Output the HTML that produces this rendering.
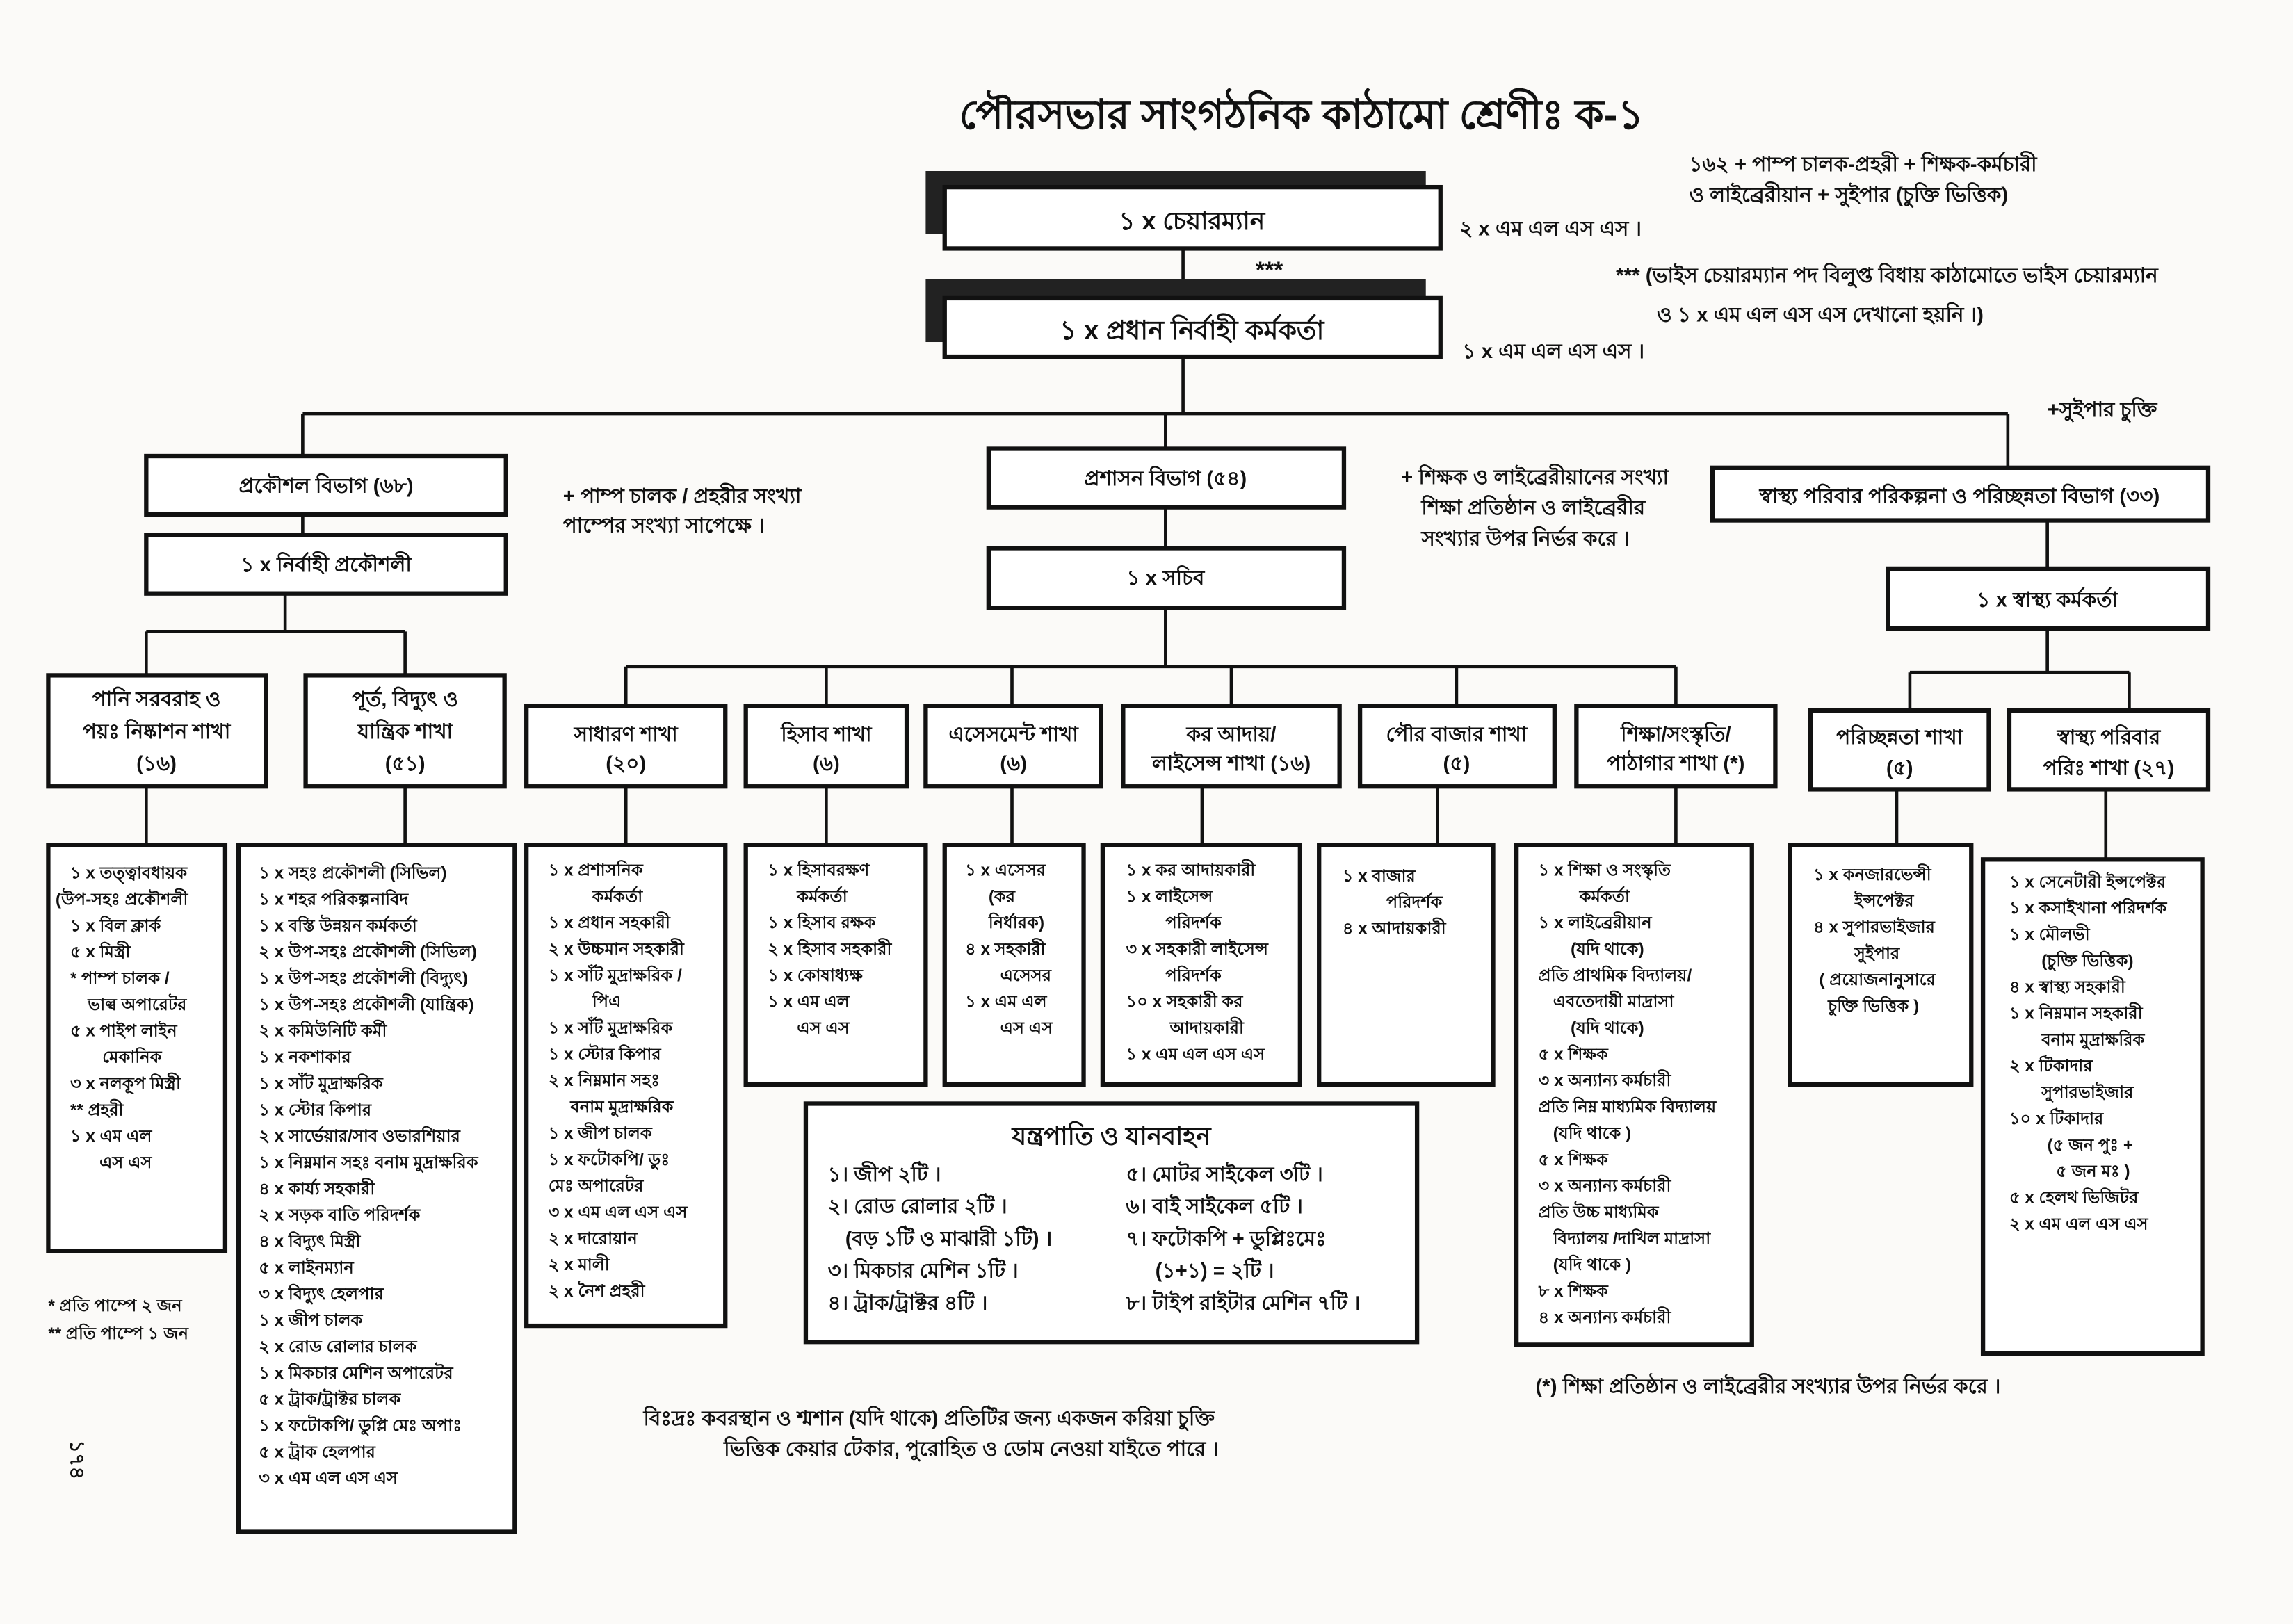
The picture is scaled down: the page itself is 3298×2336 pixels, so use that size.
<!DOCTYPE html>
<html><head><meta charset="utf-8"><style>
html,body{margin:0;padding:0;background:#fbfaf8;}
svg{display:block}
text{font-family:"Liberation Sans","DejaVu Sans",sans-serif;font-weight:bold;fill:#111}
.b{fill:#fff;stroke:#111;stroke-width:3}
.l{stroke:#111;stroke-width:2.2;fill:none}
.s{font-size:11.5px}
.m{font-size:14px}
.c{text-anchor:middle}
</style></head><body>
<svg width="3298" height="2336" viewBox="0 0 1568 1111" preserveAspectRatio="none" xmlns="http://www.w3.org/2000/svg">
<rect width="1568" height="1111" fill="#fbfaf8"/>
<text x="890" y="88" class="c" style="font-size:28px">পৌরসভার সাংগঠনিক কাঠামো শ্রেণীঃ ক-১</text>
<text x="1155" y="117" class="m">১৬২ + পাম্প চালক-প্রহরী + শিক্ষক-কর্মচারী</text>
<text x="1155" y="138" class="m">ও লাইব্রেরীয়ান + সুইপার (চুক্তি ভিত্তিক)</text>

<rect x="633" y="117" width="342" height="43" fill="#222"/>
<rect x="646" y="128" width="339" height="42" class="b"/>
<text x="815" y="157" class="c" style="font-size:17px">১ x চেয়ারম্যান</text>
<text x="998" y="161" class="m">২ x এম এল এস এস ।</text>
<line x1="809" y1="170" x2="809" y2="205" class="l" stroke-width="3"/>
<text x="868" y="190" class="c" style="font-size:16px">***</text>
<rect x="633" y="191" width="342" height="43" fill="#222"/>
<rect x="646" y="204" width="339" height="40" class="b"/>
<text x="815" y="232" class="c" style="font-size:18px">১ x প্রধান নির্বাহী কর্মকর্তা</text>
<text x="1000" y="245" class="m">১ x এম এল এস এস ।</text>
<text x="1105" y="193" class="m">*** (ভাইস চেয়ারম্যান পদ বিলুপ্ত বিধায় কাঠামোতে ভাইস চেয়ারম্যান</text>
<text x="1133" y="220" class="m">ও ১ x এম এল এস এস দেখানো হয়নি ।)</text>

<path d="M809 244V283M207 283H1373M207 283V312M797 283V307M1373 283V320" class="l"/>
<text x="1400" y="285" class="m">+সুইপার চুক্তি</text>

<rect x="100" y="312" width="246" height="40" class="b"/>
<text x="223" y="337" class="c m">প্রকৌশল বিভাগ (৬৮)</text>
<path d="M207 352V366M195 406V432M100 432H277M100 432V462M277 432V462M100 538V578M277 538V578" class="l"/>
<rect x="100" y="366" width="246" height="40" class="b"/>
<text x="223" y="391" class="c m">১ x নির্বাহী প্রকৌশলী</text>
<rect x="33" y="462" width="149" height="76" class="b"/>
<text x="107" y="483" class="c m">পানি সরবরাহ ও</text>
<text x="107" y="505" class="c m">পয়ঃ নিষ্কাশন শাখা</text>
<text x="107" y="527" class="c m">(১৬)</text>
<rect x="209" y="462" width="136" height="76" class="b"/>
<text x="277" y="483" class="c m">পূর্ত, বিদ্যুৎ ও</text>
<text x="277" y="505" class="c m">যান্ত্রিক শাখা</text>
<text x="277" y="527" class="c m">(৫১)</text>

<rect x="33" y="578" width="121" height="278" class="b"/>
<g class="s">
<text x="48" y="601">১ x তত্ত্বাবধায়ক</text>
<text x="38" y="619">(উপ-সহঃ প্রকৌশলী</text>
<text x="48" y="637">১ x বিল ক্লার্ক</text>
<text x="48" y="655">৫ x মিস্ত্রী</text>
<text x="48" y="673">* পাম্প চালক /</text>
<text x="60" y="691">ভাল্ব অপারেটর</text>
<text x="48" y="709">৫ x পাইপ লাইন</text>
<text x="70" y="727">মেকানিক</text>
<text x="48" y="745">৩ x নলকূপ মিস্ত্রী</text>
<text x="48" y="763">** প্রহরী</text>
<text x="48" y="781">১ x এম এল</text>
<text x="68" y="799">এস এস</text>
</g>
<rect x="163" y="578" width="189" height="470" class="b"/>
<g class="s">
<text x="177" y="601">১ x সহঃ প্রকৌশলী (সিভিল)</text>
<text x="177" y="619">১ x শহর পরিকল্পনাবিদ</text>
<text x="177" y="637">১ x বস্তি উন্নয়ন কর্মকর্তা</text>
<text x="177" y="655">২ x উপ-সহঃ প্রকৌশলী (সিভিল)</text>
<text x="177" y="673">১ x উপ-সহঃ প্রকৌশলী (বিদ্যুৎ)</text>
<text x="177" y="691">১ x উপ-সহঃ প্রকৌশলী (যান্ত্রিক)</text>
<text x="177" y="709">২ x কমিউনিটি কর্মী</text>
<text x="177" y="727">১ x নকশাকার</text>
<text x="177" y="745">১ x সাঁট মুদ্রাক্ষরিক</text>
<text x="177" y="763">১ x স্টোর কিপার</text>
<text x="177" y="781">২ x সার্ভেয়ার/সাব ওভারশিয়ার</text>
<text x="177" y="799">১ x নিম্নমান সহঃ বনাম মুদ্রাক্ষরিক</text>
<text x="177" y="817">৪ x কার্য্য সহকারী</text>
<text x="177" y="835">২ x সড়ক বাতি পরিদর্শক</text>
<text x="177" y="853">৪ x বিদ্যুৎ মিস্ত্রী</text>
<text x="177" y="871">৫ x লাইনম্যান</text>
<text x="177" y="889">৩ x বিদ্যুৎ হেলপার</text>
<text x="177" y="907">১ x জীপ চালক</text>
<text x="177" y="925">২ x রোড রোলার চালক</text>
<text x="177" y="943">১ x মিকচার মেশিন অপারেটর</text>
<text x="177" y="961">৫ x ট্রাক/ট্রাক্টর চালক</text>
<text x="177" y="979">১ x ফটোকপি/ ডুপ্লি মেঃ অপাঃ</text>
<text x="177" y="997">৫ x ট্রাক হেলপার</text>
<text x="177" y="1015">৩ x এম এল এস এস</text>
</g>
<text x="33" y="897" class="s">* প্রতি পাম্পে ২ জন</text>
<text x="33" y="916" class="s">** প্রতি পাম্পে ১ জন</text>
<text x="0" y="0" class="m" transform="translate(48,985) rotate(90)">১৭৪</text>

<text x="385" y="344" class="m">+ পাম্প চালক / প্রহরীর সংখ্যা</text>
<text x="385" y="364" class="m">পাম্পের সংখ্যা সাপেক্ষে ।</text>
<text x="958" y="331" class="m">+ শিক্ষক ও লাইব্রেরীয়ানের সংখ্যা</text>
<text x="972" y="352" class="m">শিক্ষা প্রতিষ্ঠান ও লাইব্রেরীর</text>
<text x="972" y="373" class="m">সংখ্যার উপর নির্ভর করে ।</text>

<rect x="676" y="307" width="243" height="40" class="b"/>
<text x="797" y="332" class="c m">প্রশাসন বিভাগ (৫৪)</text>
<rect x="676" y="375" width="243" height="41" class="b"/>
<text x="797" y="400" class="c m">১ x সচিব</text>
<path d="M797 347V375M797 416V456M428 456H1146M428 456V483M565 456V483M692 456V483M842 456V483M996 456V483M1146 456V483M428 538V578M565 538V578M692 538V578M822 538V578M983 538V578M1146 538V578" class="l"/>
<rect x="360" y="483" width="136" height="55" class="b"/>
<text x="428" y="507" class="c m">সাধারণ শাখা</text>
<text x="428" y="527" class="c m">(২০)</text>
<rect x="510" y="483" width="110" height="55" class="b"/>
<text x="565" y="507" class="c m">হিসাব শাখা</text>
<text x="565" y="527" class="c m">(৬)</text>
<rect x="633" y="483" width="120" height="55" class="b"/>
<text x="693" y="507" class="c m">এসেসমেন্ট শাখা</text>
<text x="693" y="527" class="c m">(৬)</text>
<rect x="768" y="483" width="148" height="55" class="b"/>
<text x="842" y="507" class="c m">কর আদায়/</text>
<text x="842" y="527" class="c m">লাইসেন্স শাখা (১৬)</text>
<rect x="930" y="483" width="133" height="55" class="b"/>
<text x="996" y="507" class="c m">পৌর বাজার শাখা</text>
<text x="996" y="527" class="c m">(৫)</text>
<rect x="1078" y="483" width="136" height="55" class="b"/>
<text x="1146" y="507" class="c m">শিক্ষা/সংস্কৃতি/</text>
<text x="1146" y="527" class="c m">পাঠাগার শাখা (*)</text>

<rect x="360" y="578" width="136" height="329" class="b"/>
<g class="s">
<text x="375" y="599">১ x প্রশাসনিক</text>
<text x="405" y="617">কর্মকর্তা</text>
<text x="375" y="635">১ x প্রধান সহকারী</text>
<text x="375" y="653">২ x উচ্চমান সহকারী</text>
<text x="375" y="671">১ x সাঁট মুদ্রাক্ষরিক /</text>
<text x="405" y="689">পিএ</text>
<text x="375" y="707">১ x সাঁট মুদ্রাক্ষরিক</text>
<text x="375" y="725">১ x স্টোর কিপার</text>
<text x="375" y="743">২ x নিম্নমান সহঃ</text>
<text x="390" y="761">বনাম মুদ্রাক্ষরিক</text>
<text x="375" y="779">১ x জীপ চালক</text>
<text x="375" y="797">১ x ফটোকপি/ ডুঃ</text>
<text x="375" y="815">মেঃ অপারেটর</text>
<text x="375" y="833">৩ x এম এল এস এস</text>
<text x="375" y="851">২ x দারোয়ান</text>
<text x="375" y="869">২ x মালী</text>
<text x="375" y="887">২ x নৈশ প্রহরী</text>
</g>
<rect x="510" y="578" width="123" height="164" class="b"/>
<g class="s">
<text x="525" y="599">১ x হিসাবরক্ষণ</text>
<text x="545" y="617">কর্মকর্তা</text>
<text x="525" y="635">১ x হিসাব রক্ষক</text>
<text x="525" y="653">২ x হিসাব সহকারী</text>
<text x="525" y="671">১ x কোষাধ্যক্ষ</text>
<text x="525" y="689">১ x এম এল</text>
<text x="545" y="707">এস এস</text>
</g>
<rect x="646" y="578" width="95" height="164" class="b"/>
<g class="s">
<text x="660" y="599">১ x এসেসর</text>
<text x="676" y="617">(কর</text>
<text x="676" y="635">নির্ধারক)</text>
<text x="660" y="653">৪ x সহকারী</text>
<text x="684" y="671">এসেসর</text>
<text x="660" y="689">১ x এম এল</text>
<text x="684" y="707">এস এস</text>
</g>
<rect x="754" y="578" width="135" height="164" class="b"/>
<g class="s">
<text x="770" y="599">১ x কর আদায়কারী</text>
<text x="770" y="617">১ x লাইসেন্স</text>
<text x="797" y="635">পরিদর্শক</text>
<text x="770" y="653">৩ x সহকারী লাইসেন্স</text>
<text x="797" y="671">পরিদর্শক</text>
<text x="770" y="689">১০ x সহকারী কর</text>
<text x="800" y="707">আদায়কারী</text>
<text x="770" y="725">১ x এম এল এস এস</text>
</g>
<rect x="902" y="578" width="119" height="164" class="b"/>
<g class="s">
<text x="918" y="603">১ x বাজার</text>
<text x="948" y="621">পরিদর্শক</text>
<text x="918" y="639">৪ x আদায়কারী</text>
</g>
<rect x="1037" y="578" width="161" height="342" class="b"/>
<g class="s">
<text x="1052" y="599">১ x শিক্ষা ও সংস্কৃতি</text>
<text x="1080" y="617">কর্মকর্তা</text>
<text x="1052" y="635">১ x লাইব্রেরীয়ান</text>
<text x="1074" y="653">(যদি থাকে)</text>
<text x="1052" y="671">প্রতি প্রাথমিক বিদ্যালয়/</text>
<text x="1062" y="689">এবতেদায়ী মাদ্রাসা</text>
<text x="1074" y="707">(যদি থাকে)</text>
<text x="1052" y="725">৫ x শিক্ষক</text>
<text x="1052" y="743">৩ x অন্যান্য কর্মচারী</text>
<text x="1052" y="761">প্রতি নিম্ন মাধ্যমিক বিদ্যালয়</text>
<text x="1062" y="779">(যদি থাকে )</text>
<text x="1052" y="797">৫ x শিক্ষক</text>
<text x="1052" y="815">৩ x অন্যান্য কর্মচারী</text>
<text x="1052" y="833">প্রতি উচ্চ মাধ্যমিক</text>
<text x="1062" y="851">বিদ্যালয় /দাখিল মাদ্রাসা</text>
<text x="1062" y="869">(যদি থাকে )</text>
<text x="1052" y="887">৮ x শিক্ষক</text>
<text x="1052" y="905">৪ x অন্যান্য কর্মচারী</text>
</g>

<rect x="551" y="755" width="418" height="163" class="b"/>
<text x="760" y="783" class="c" style="font-size:17px">যন্ত্রপাতি ও যানবাহন</text>
<g class="m">
<text x="566" y="808">১। জীপ ২টি ।</text>
<text x="566" y="830">২। রোড রোলার ২টি ।</text>
<text x="578" y="852">(বড় ১টি ও মাঝারী ১টি) ।</text>
<text x="566" y="874">৩। মিকচার মেশিন ১টি ।</text>
<text x="566" y="896">৪। ট্রাক/ট্রাক্টর ৪টি ।</text>
<text x="770" y="808">৫। মোটর সাইকেল ৩টি ।</text>
<text x="770" y="830">৬। বাই সাইকেল ৫টি ।</text>
<text x="770" y="852">৭। ফটোকপি + ডুপ্লিঃমেঃ</text>
<text x="790" y="874">(১+১) = ২টি ।</text>
<text x="770" y="896">৮। টাইপ রাইটার মেশিন ৭টি ।</text>
</g>
<text x="440" y="975" class="m">বিঃদ্রঃ কবরস্থান ও শ্মশান (যদি থাকে) প্রতিটির জন্য একজন করিয়া চুক্তি</text>
<text x="495" y="996" class="m">ভিত্তিক কেয়ার টেকার, পুরোহিত ও ডোম নেওয়া যাইতে পারে ।</text>
<text x="1050" y="953" class="m">(*) শিক্ষা প্রতিষ্ঠান ও লাইব্রেরীর সংখ্যার উপর নির্ভর করে ।</text>

<rect x="1171" y="320" width="339" height="36" class="b"/>
<text x="1340" y="344" class="c m">স্বাস্থ্য পরিবার পরিকল্পনা ও পরিচ্ছন্নতা বিভাগ (৩৩)</text>
<rect x="1291" y="389" width="219" height="41" class="b"/>
<text x="1400" y="415" class="c m">১ x স্বাস্থ্য কর্মকর্তা</text>
<path d="M1400 356V389M1400 430V460M1306 460H1456M1306 460V486M1456 460V486M1297 540V578M1440 540V588" class="l"/>
<rect x="1238" y="486" width="122" height="54" class="b"/>
<text x="1299" y="509" class="c m">পরিচ্ছন্নতা শাখা</text>
<text x="1299" y="530" class="c m">(৫)</text>
<rect x="1374" y="486" width="136" height="54" class="b"/>
<text x="1442" y="509" class="c m">স্বাস্থ্য পরিবার</text>
<text x="1442" y="530" class="c m">পরিঃ শাখা (২৭)</text>
<rect x="1224" y="578" width="124" height="164" class="b"/>
<g class="s">
<text x="1240" y="602">১ x কনজারভেন্সী</text>
<text x="1268" y="620">ইন্সপেক্টর</text>
<text x="1240" y="638">৪ x সুপারভাইজার</text>
<text x="1268" y="656">সুইপার</text>
<text x="1244" y="674">( প্রয়োজনানুসারে</text>
<text x="1250" y="692">চুক্তি ভিত্তিক )</text>
</g>
<rect x="1356" y="588" width="150" height="338" class="b"/>
<g class="s">
<text x="1374" y="607">১ x সেনেটারী ইন্সপেক্টর</text>
<text x="1374" y="625">১ x কসাইখানা পরিদর্শক</text>
<text x="1374" y="643">১ x মৌলভী</text>
<text x="1396" y="661">(চুক্তি ভিত্তিক)</text>
<text x="1374" y="679">৪ x স্বাস্থ্য সহকারী</text>
<text x="1374" y="697">১ x নিম্নমান সহকারী</text>
<text x="1396" y="715">বনাম মুদ্রাক্ষরিক</text>
<text x="1374" y="733">২ x টিকাদার</text>
<text x="1396" y="751">সুপারভাইজার</text>
<text x="1374" y="769">১০ x টিকাদার</text>
<text x="1400" y="787">(৫ জন পুঃ +</text>
<text x="1406" y="805">৫ জন মঃ )</text>
<text x="1374" y="823">৫ x হেলথ ভিজিটর</text>
<text x="1374" y="841">২ x এম এল এস এস</text>
</g>
</svg>
</body></html>
